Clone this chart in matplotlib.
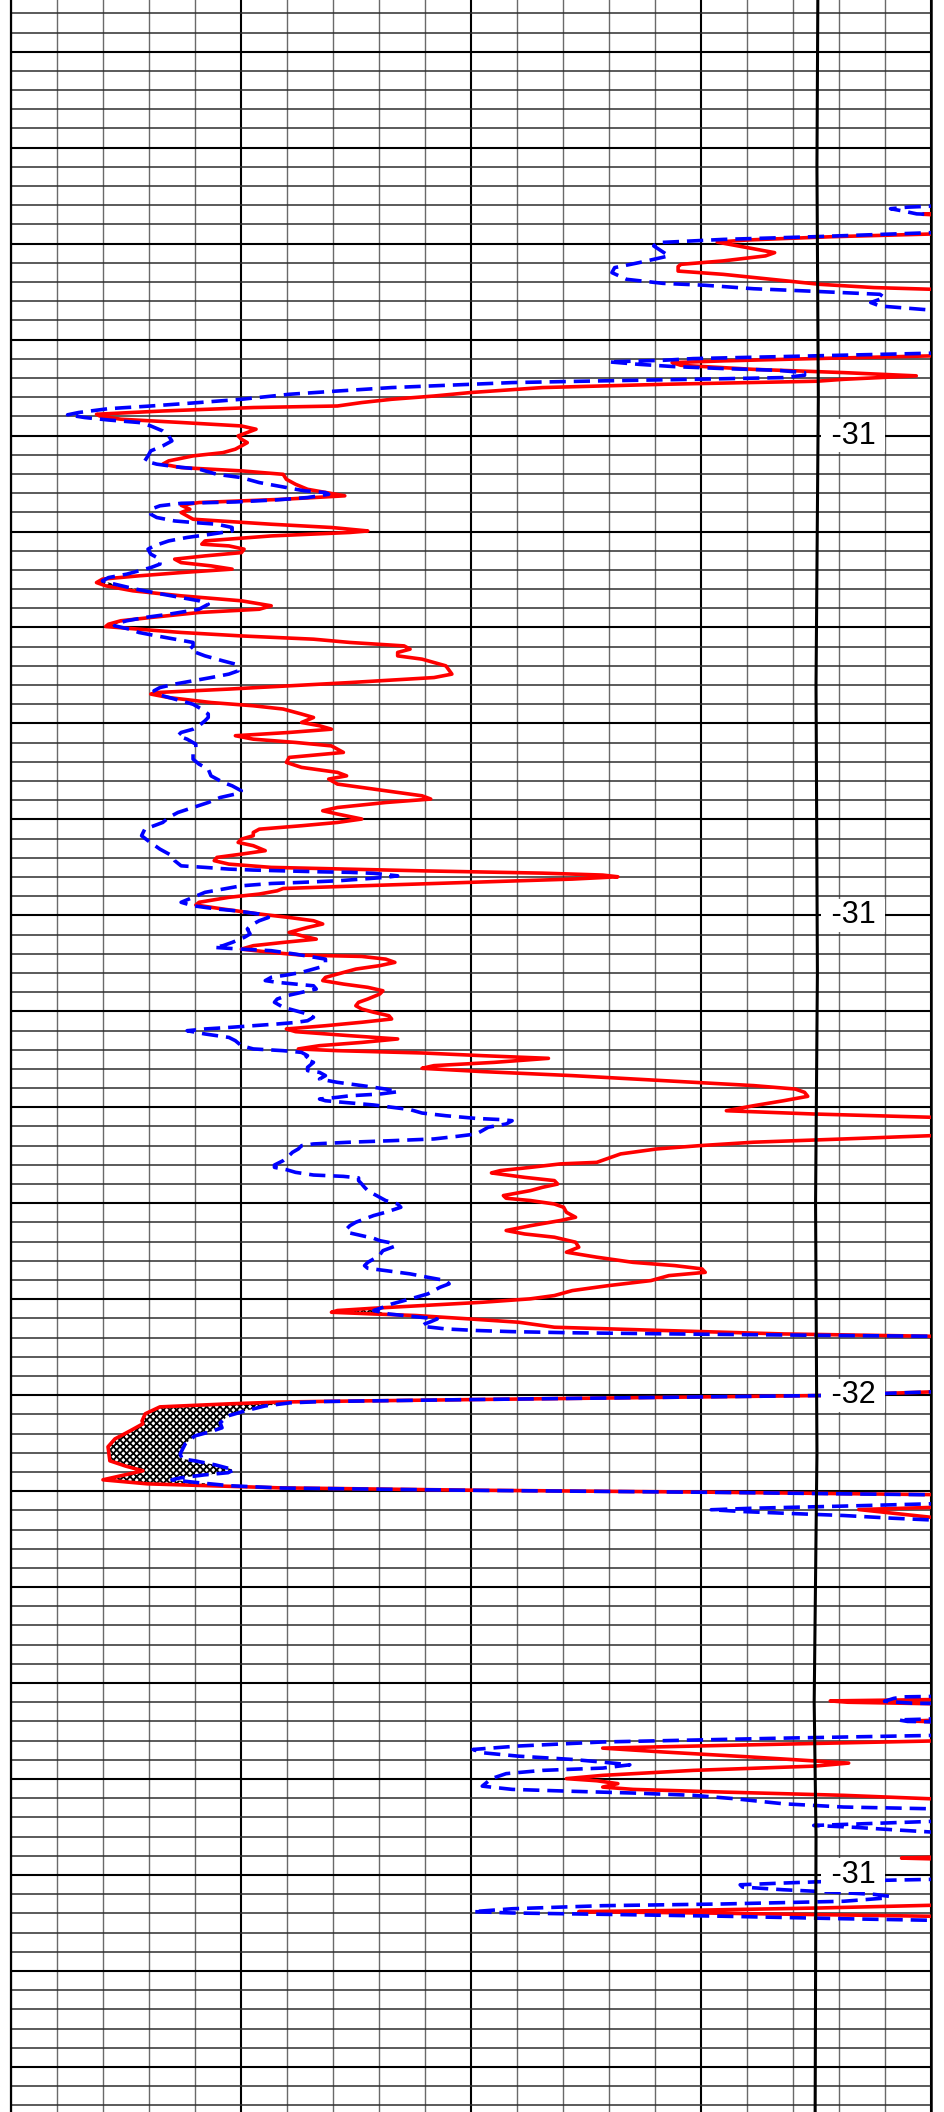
import matplotlib
matplotlib.use("Agg")
import matplotlib.pyplot as plt
from matplotlib import font_manager
import numpy as np

# depth in minor grid steps (major every 5), value in grid divisions 0-20
# values > 20 are off the track to the right
red = [
    (-1.0, 22), (10.30, 21), (10.47, 19.83), (10.60, 21), (11.37, 22),
    (11.50, 20.0), (11.64, 17.85), (11.81, 16.02), (11.92, 15.36), (12.21, 16.02),
    (12.47, 16.61), (12.64, 16.41), (12.90, 15.49), (13.08, 14.57), (13.20, 14.51),
    (13.43, 14.51), (13.60, 15.49), (13.86, 16.54), (14.12, 17.59), (14.29, 18.77),
    (14.38, 20.0), (14.50, 22), (17.70, 22), (17.85, 20.0), (17.99, 17.46),
    (18.11, 15.49), (18.20, 14.38), (18.34, 14.57), (18.55, 16.15), (18.72, 18.11),
    (18.89, 19.69), (19.07, 18.11), (19.17, 17.52), (19.33, 14.18), (19.50, 11.56),
    (19.76, 9.99), (19.94, 9.20), (20.11, 8.28), (20.28, 7.63), (20.46, 7.10),
    (20.54, 5.27), (20.72, 3.30), (20.89, 1.86), (20.98, 1.93), (21.15, 2.39),
    (21.32, 3.70), (21.50, 5.01), (21.67, 5.33), (21.84, 5.14), (22.02, 4.94),
    (22.19, 5.01), (22.37, 5.14), (22.54, 5.01), (22.71, 4.88), (22.89, 4.61),
    (23.06, 3.96), (23.32, 3.43), (23.49, 3.30), (23.67, 3.70), (23.84, 5.01),
    (24.02, 5.92), (24.28, 5.99), (24.54, 6.19), (24.80, 6.45), (25.14, 7.26),
    (25.32, 5.92), (25.49, 4.09), (25.63, 3.70), (25.84, 3.89), (26.01, 3.70),
    (26.36, 3.96), (26.62, 5.66), (26.79, 6.97), (26.97, 7.76), (27.05, 7.37),
    (27.23, 5.66), (27.49, 4.22), (27.66, 4.15), (27.75, 4.74), (27.92, 5.07),
    (28.10, 5.01), (28.27, 4.22), (28.44, 3.56), (28.62, 3.70), (28.79, 4.35),
    (28.96, 4.81), (29.14, 3.70), (29.31, 2.78), (29.48, 1.99), (29.66, 1.86),
    (29.83, 2.06), (30.09, 2.65), (30.35, 3.70), (30.61, 5.01), (30.87, 5.66),
    (31.05, 5.40), (31.22, 4.09), (31.48, 3.04), (31.65, 2.39), (31.83, 2.12),
    (31.95, 2.06), (32.09, 2.78), (32.26, 3.70), (32.44, 5.01), (32.61, 6.58),
    (32.78, 7.37), (32.96, 8.55), (33.13, 8.68), (33.30, 8.41), (33.48, 8.41),
    (33.65, 8.94), (34.00, 9.46), (34.43, 9.59), (34.61, 9.20), (34.87, 7.37),
    (35.04, 6.05), (35.21, 4.74), (35.39, 3.17), (35.47, 3.04), (35.65, 3.43),
    (35.91, 4.35), (36.08, 5.27), (36.25, 5.92), (36.51, 6.32), (36.69, 6.58),
    (36.95, 6.32), (37.12, 6.71), (37.30, 6.97), (37.47, 6.05), (37.64, 4.88),
    (37.82, 5.27), (37.99, 6.19), (38.17, 6.97), (38.34, 7.10), (38.51, 7.23),
    (38.77, 6.05), (39.03, 5.99), (39.29, 6.32), (39.55, 7.10), (39.73, 7.30),
    (39.90, 6.91), (40.16, 7.10), (40.42, 7.89), (40.77, 8.94), (40.94, 9.13),
    (41.12, 8.15), (41.38, 7.10), (41.55, 6.78), (41.72, 7.10), (41.98, 7.63),
    (42.16, 7.10), (42.33, 6.32), (42.51, 5.40), (42.68, 5.27), (42.85, 5.27),
    (43.03, 5.01), (43.20, 4.94), (43.37, 5.27), (43.63, 5.53), (43.81, 5.01),
    (43.98, 4.48), (44.15, 4.42), (44.33, 4.74), (44.50, 5.66), (44.68, 8.94),
    (44.80, 11.56), (44.90, 12.87), (44.99, 13.20), (45.11, 12.21), (45.28, 9.99),
    (45.46, 7.63), (45.60, 5.92), (45.72, 5.79), (45.89, 5.40), (46.06, 4.74),
    (46.32, 4.09), (46.46, 4.02), (46.67, 4.61), (46.93, 5.40), (47.11, 6.05),
    (47.28, 6.58), (47.45, 6.78), (47.63, 6.45), (47.89, 6.05), (48.06, 6.32),
    (48.24, 6.64), (48.41, 5.92), (48.58, 5.27), (48.76, 5.01), (48.93, 5.66),
    (49.07, 6.32), (49.14, 7.63), (49.28, 8.15), (49.45, 8.35), (49.62, 8.02),
    (49.80, 7.50), (50.06, 7.10), (50.23, 6.84), (50.40, 6.78), (50.58, 7.23),
    (50.75, 7.76), (50.93, 8.09), (51.10, 8.02), (51.36, 7.76), (51.53, 7.56),
    (51.71, 7.50), (51.88, 7.63), (52.05, 7.89), (52.23, 8.22), (52.40, 8.28),
    (52.57, 7.63), (52.75, 6.84), (52.92, 5.99), (53.06, 6.19), (53.27, 7.37),
    (53.44, 8.41), (53.62, 7.63), (53.79, 6.71), (53.96, 6.25), (54.05, 7.10),
    (54.17, 8.94), (54.31, 10.25), (54.45, 11.69), (54.66, 10.51), (54.83, 9.20),
    (54.97, 8.94), (55.14, 10.25), (55.35, 12.21), (55.61, 14.18), (55.87, 16.15),
    (56.05, 17.06), (56.22, 17.26), (56.43, 17.33), (56.66, 16.80), (56.92, 16.15),
    (57.18, 15.56), (57.35, 17.46), (57.52, 20.0), (57.65, 22), (58.35, 22),
    (58.48, 20.0), (58.65, 18.11), (58.82, 16.15), (59.00, 14.97), (59.17, 14.05),
    (59.43, 13.26), (59.87, 12.74), (59.95, 11.95), (60.13, 11.30), (60.30, 10.64),
    (60.42, 10.45), (60.65, 11.17), (60.82, 11.82), (61.00, 11.89), (61.17, 11.56),
    (61.34, 11.30), (61.60, 10.71), (61.74, 10.77), (61.86, 11.30), (62.04, 11.82),
    (62.21, 12.02), (62.47, 12.08), (62.73, 12.28), (62.90, 11.95), (63.17, 11.30),
    (63.42, 10.77), (63.60, 11.17), (63.77, 11.82), (64.03, 12.28), (64.29, 12.35),
    (64.55, 12.08), (64.81, 12.74), (65.08, 13.53), (65.25, 14.44), (65.42, 15.03),
    (65.60, 15.10), (65.77, 14.31), (66.03, 13.92), (66.29, 13.00), (66.55, 12.21),
    (66.81, 11.82), (66.98, 11.30), (67.16, 10.25), (67.33, 8.94), (67.47, 7.89),
    (67.59, 7.10), (67.68, 6.97), (67.77, 7.89), (67.85, 8.81), (68.03, 9.99),
    (68.20, 11.04), (68.46, 11.82), (68.63, 14.18), (68.81, 16.80), (68.93, 20.0),
    (69.10, 22), (71.70, 22), (71.83, 20.0), (72.02, 17.59), (72.09, 15.0),
    (72.23, 10.0), (72.33, 6.6), (72.36, 5.85), (72.45, 4.76), (72.61, 3.24),
    (72.97, 2.92), (73.34, 2.85), (73.49, 2.87), (73.86, 2.59), (74.28, 2.26),
    (74.69, 2.11), (75.42, 2.15), (75.70, 2.50), (75.94, 2.87), (76.41, 2.00),
    (76.62, 2.96), (76.83, 5.85), (76.95, 10.0), (77.05, 15.0), (77.18, 20.0),
    (77.30, 22), (77.75, 22), (77.85, 20.0), (77.96, 18.44), (78.18, 19.29),
    (78.36, 20.0), (78.50, 22), (87.80, 22), (87.93, 17.82), (88.00, 18.20),
    (88.12, 21), (88.85, 21), (88.98, 19.60), (89.10, 21), (89.90, 22),
    (90.02, 20.0), (90.25, 15.49), (90.39, 12.87), (90.59, 14.18), (90.86, 16.15),
    (91.17, 18.22), (91.33, 17.46), (91.55, 14.84), (91.81, 12.87), (91.98, 12.08),
    (92.09, 12.74), (92.24, 13.20), (92.42, 12.87), (92.54, 13.53), (92.68, 15.49),
    (92.85, 18.11), (93.03, 20.0), (93.15, 22), (95.95, 22), (96.12, 19.37),
    (96.28, 22), (98.45, 22), (98.58, 20.0), (98.72, 17.59), (98.83, 15.03),
    (98.91, 12.35), (98.98, 15.03), (99.07, 17.59), (99.15, 20.0), (99.30, 22),
    (110.0, 22),
]

blue = [
    (-1.0, 22), (9.95, 22), (10.05, 20.0), (10.10, 19.50), (10.18, 19.13),
    (10.30, 19.40), (10.45, 19.70), (10.50, 20.2), (10.60, 22), (11.30, 22),
    (11.43, 20.0), (11.64, 17.46), (11.78, 15.49), (11.95, 14.05), (12.12, 13.98),
    (12.64, 14.31), (12.99, 13.66), (13.25, 13.13), (13.51, 13.07), (13.86, 13.39),
    (14.07, 14.18), (14.17, 15.10), (14.35, 16.15), (14.47, 17.33), (14.64, 18.90),
    (14.81, 19.00), (15.07, 18.70), (15.25, 18.90), (15.46, 20.0), (15.60, 22),
    (17.60, 22), (17.71, 20.0), (17.85, 17.46), (17.99, 14.84), (18.08, 14.18),
    (18.16, 13.00), (18.29, 13.66), (18.41, 14.44), (18.51, 15.49), (18.60, 16.67),
    (18.72, 17.26), (18.86, 17.26), (18.98, 16.80), (19.07, 14.84), (19.15, 12.87),
    (19.24, 10.90), (19.33, 9.99), (19.50, 8.28), (19.68, 7.10), (19.85, 6.05),
    (20.11, 5.01), (20.28, 4.09), (20.46, 3.04), (20.60, 2.12), (20.80, 1.47),
    (20.92, 1.23), (21.06, 1.60), (21.19, 2.12), (21.32, 2.78), (21.50, 3.04),
    (21.76, 3.30), (22.02, 3.43), (22.28, 3.50), (22.54, 3.30), (22.80, 3.04),
    (23.06, 2.98), (23.32, 2.91), (23.49, 3.17), (23.62, 3.56), (23.75, 4.09),
    (24.02, 4.48), (24.19, 5.01), (24.45, 5.40), (24.71, 5.99), (24.88, 6.38),
    (24.97, 6.84), (25.06, 6.91), (25.23, 6.45), (25.35, 5.79), (25.46, 4.88),
    (25.53, 3.70), (25.66, 3.24), (25.84, 3.04), (26.10, 3.04), (26.27, 3.17),
    (26.45, 3.56), (26.53, 3.96), (26.62, 4.48), (26.79, 4.81), (26.97, 4.81),
    (27.14, 4.35), (27.31, 3.83), (27.49, 3.43), (27.75, 3.11), (27.92, 2.98),
    (28.18, 3.04), (28.44, 3.24), (28.70, 3.24), (28.88, 3.04), (29.05, 2.78),
    (29.22, 2.52), (29.40, 2.12), (29.57, 1.99), (29.74, 2.25), (30.00, 2.71),
    (30.27, 3.30), (30.44, 3.70), (30.61, 4.09), (30.79, 4.29), (31.05, 4.09),
    (31.31, 3.43), (31.48, 2.91), (31.65, 2.52), (31.78, 2.32), (31.91, 2.25),
    (32.09, 2.58), (32.26, 2.78), (32.44, 3.17), (32.61, 3.56), (32.78, 3.96),
    (32.96, 3.96), (33.13, 3.89), (33.30, 4.02), (33.48, 4.22), (33.74, 4.61),
    (33.91, 4.88), (34.08, 4.94), (34.26, 4.94), (34.43, 4.74), (34.61, 4.35),
    (34.78, 3.96), (34.95, 3.56), (35.13, 3.24), (35.30, 3.11), (35.47, 3.17),
    (35.73, 3.56), (36.00, 3.96), (36.26, 4.15), (36.51, 4.29), (36.69, 4.29),
    (36.86, 4.22), (37.12, 4.09), (37.30, 3.96), (37.47, 3.70), (37.64, 3.63),
    (37.82, 3.83), (38.08, 4.02), (38.34, 4.02), (38.60, 3.96), (38.86, 3.96),
    (39.12, 4.09), (39.38, 4.29), (39.73, 4.35), (40.07, 4.61), (40.25, 4.81),
    (40.51, 5.01), (40.68, 4.88), (40.86, 4.55), (41.12, 4.29), (41.38, 3.96),
    (41.64, 3.63), (41.90, 3.43), (42.16, 3.30), (42.51, 2.91), (42.85, 2.84),
    (43.11, 2.98), (43.55, 3.24), (43.72, 3.37), (43.89, 3.50), (44.15, 3.56),
    (44.42, 3.70), (44.50, 4.22), (44.59, 4.74), (44.64, 5.27), (44.69, 6.05),
    (44.73, 6.71), (44.76, 7.37), (44.81, 7.89), (44.94, 8.41), (45.02, 8.15),
    (45.11, 7.63), (45.20, 7.10), (45.28, 6.32), (45.34, 5.66), (45.46, 5.01),
    (45.63, 4.61), (45.80, 4.22), (46.06, 3.96), (46.32, 3.70), (46.50, 3.96),
    (46.67, 4.48), (46.76, 4.88), (46.93, 5.40), (47.11, 5.60), (47.28, 5.40),
    (47.45, 5.27), (47.71, 5.14), (47.97, 5.20), (48.15, 5.07), (48.41, 4.81),
    (48.58, 4.61), (48.67, 4.42), (48.76, 5.01), (48.84, 5.66), (49.02, 6.19),
    (49.28, 6.84), (49.45, 6.84), (49.71, 6.71), (49.97, 6.32), (50.11, 5.99),
    (50.23, 5.66), (50.40, 5.53), (50.49, 5.79), (50.58, 6.19), (50.67, 6.58),
    (50.84, 6.64), (51.01, 6.32), (51.19, 5.99), (51.36, 5.79), (51.53, 5.73),
    (51.79, 5.92), (51.97, 6.19), (52.14, 6.45), (52.31, 6.58), (52.49, 6.45),
    (52.58, 6.19), (52.66, 5.79), (52.75, 5.27), (52.84, 4.74), (52.92, 4.22),
    (53.01, 3.83), (53.18, 4.22), (53.36, 4.74), (53.53, 4.88), (53.79, 5.01),
    (53.96, 5.27), (54.05, 5.92), (54.14, 6.32), (54.31, 6.45), (54.48, 6.38),
    (54.66, 6.58), (54.92, 6.45), (55.09, 6.45), (55.18, 6.71), (55.35, 6.84),
    (55.53, 6.71), (55.70, 7.10), (55.87, 7.63), (56.05, 8.15), (56.19, 8.41),
    (56.31, 8.02), (56.40, 7.37), (56.48, 7.10), (56.57, 6.71), (56.66, 6.84),
    (56.74, 7.23), (56.88, 7.89), (57.00, 8.28), (57.12, 8.68), (57.30, 8.94),
    (57.44, 9.46), (57.58, 10.12), (57.64, 10.64), (57.70, 10.90), (57.87, 10.77),
    (58.04, 10.38), (58.22, 10.25), (58.39, 10.12), (58.51, 9.72), (58.65, 9.20),
    (58.74, 8.28), (58.82, 7.37), (58.91, 6.58), (59.00, 6.32), (59.17, 6.25),
    (59.35, 6.12), (59.52, 6.05), (59.78, 5.92), (60.01, 5.73), (60.13, 5.73),
    (60.25, 5.99), (60.39, 6.19), (60.53, 6.58), (60.60, 7.23), (60.68, 7.56),
    (60.82, 7.56), (61.00, 7.63), (61.17, 7.69), (61.34, 7.76), (61.52, 7.89),
    (61.69, 8.02), (61.86, 8.15), (62.04, 8.41), (62.21, 8.48), (62.47, 8.15),
    (62.64, 7.89), (62.82, 7.69), (62.99, 7.50), (63.17, 7.37), (63.34, 7.30),
    (63.51, 7.30), (63.69, 7.63), (63.83, 7.89), (63.95, 8.02), (64.07, 8.28),
    (64.24, 8.35), (64.47, 8.09), (64.69, 8.02), (64.90, 7.89), (65.08, 7.76),
    (65.25, 7.69), (65.39, 7.76), (65.51, 8.15), (65.68, 8.68), (65.86, 9.07),
    (66.03, 9.46), (66.20, 9.53), (66.38, 9.33), (66.55, 9.20), (66.72, 9.07),
    (66.90, 8.81), (67.07, 8.55), (67.25, 8.28), (67.42, 8.09), (67.59, 7.89),
    (67.77, 8.22), (67.85, 8.55), (67.94, 8.94), (68.03, 9.27), (68.17, 9.13),
    (68.29, 9.00), (68.41, 8.94), (68.55, 9.46), (68.63, 10.12), (68.69, 10.90),
    (68.75, 12.21), (68.82, 14.84), (68.88, 17.46), (68.93, 20.0), (69.10, 22),
    (71.70, 22), (71.83, 20.0), (72.02, 17.59), (72.09, 15.0), (72.23, 10.0),
    (72.33, 6.8), (72.40, 6.07), (72.56, 5.53), (72.82, 5.09), (73.08, 4.72),
    (73.44, 4.55), (73.70, 4.59), (73.91, 4.33), (74.12, 4.00), (74.54, 3.79),
    (75.06, 3.68), (75.32, 3.72), (75.42, 4.00), (75.63, 4.44), (75.89, 4.85),
    (76.04, 4.72), (76.15, 4.22), (76.31, 3.68), (76.41, 3.50), (76.57, 4.11),
    (76.72, 4.77), (76.84, 5.90), (76.96, 10.10), (77.06, 15.10), (77.19, 20.0),
    (77.30, 22), (77.55, 22), (77.66, 20.0), (77.78, 18.11), (77.89, 16.15),
    (77.97, 15.23), (78.06, 15.88), (78.15, 16.80), (78.27, 18.11), (78.41, 19.16),
    (78.50, 20.0), (78.60, 22), (87.62, 22), (87.72, 19.40), (87.80, 19.20),
    (87.95, 19.00), (88.05, 19.60), (88.12, 22), (88.80, 21), (88.92, 19.30),
    (89.00, 19.50), (89.05, 21), (89.60, 22), (89.73, 20.0), (89.87, 16.80),
    (90.07, 12.87), (90.28, 11.04), (90.46, 10.05), (90.63, 10.25), (90.81, 11.04),
    (90.98, 12.21), (91.12, 12.87), (91.26, 13.46), (91.43, 12.87), (91.55, 11.56),
    (91.72, 10.77), (91.98, 10.45), (92.37, 10.25), (92.54, 10.90), (92.64, 12.21),
    (92.73, 13.53), (92.85, 14.84), (93.03, 15.75), (93.29, 16.80), (93.46, 18.11),
    (93.55, 20.0), (93.70, 22), (94.10, 22), (94.21, 20.0), (94.33, 18.51),
    (94.42, 17.46), (94.52, 18.37), (94.64, 19.16), (94.76, 20.0), (94.90, 22),
    (97.10, 22), (97.23, 20.0), (97.33, 17.85), (97.42, 16.80), (97.51, 15.86),
    (97.63, 15.91), (97.77, 16.80), (97.89, 17.85), (98.01, 18.77), (98.11, 19.10),
    (98.20, 19.03), (98.37, 18.11), (98.51, 15.49), (98.60, 12.87), (98.76, 10.90),
    (98.91, 10.05), (98.98, 10.90), (99.05, 12.87), (99.15, 15.49), (99.28, 18.11),
    (99.36, 20.0), (99.50, 22), (110.0, 22),
]

# thick base line
base_depth = [-1, 8, 20, 35, 50, 62, 75, 88, 95, 110]
base_value = [17.55, 17.53, 17.56, 17.51, 17.54, 17.50, 17.53, 17.47, 17.51, 17.49]

# depth labels
label_depth = [22, 47, 72, 97]
label_text = ["-31", "-31", "-32", "-31"]

red_d = np.array([p[0] for p in red])
red_v = np.array([p[1] for p in red])
blue_d = np.array([p[0] for p in blue])
blue_v = np.array([p[1] for p in blue])

plt.rcParams["hatch.linewidth"] = 1.3

names = {f.name for f in font_manager.fontManager.ttflist}
if "Liberation Sans Narrow" in names:
    lab_font, lab_size = "Liberation Sans Narrow", 23
else:
    lab_font, lab_size = "Liberation Sans", 22

fig = plt.figure(figsize=(9.44, 21.12), dpi=100)
ax = fig.add_axes([11 / 944, 0, 919.5 / 944, 1])

ax.set_xlim(0, 20)
ax.set_ylim(109.35, -0.694)

ax.set_xticks(np.arange(0, 21, 5))
ax.set_xticks(np.arange(0, 21, 1), minor=True)
ax.set_yticks(np.arange(2, 110, 5))
ax.set_yticks(np.arange(0, 110, 1), minor=True)
ax.grid(which="minor", axis="x", color="#6a6a6a", lw=1.0)
ax.grid(which="minor", axis="y", color="#2e2e2e", lw=1.1)
ax.grid(which="major", color="black", lw=1.5)
ax.set_axisbelow(True)
ax.tick_params(which="both", length=0, labelleft=False, labelbottom=False)
for s in ["top", "bottom"]:
    ax.spines[s].set_visible(False)
ax.spines["left"].set_linewidth(1.6)
ax.spines["right"].set_linewidth(1.8)

# shading where red lies left of blue
dd = np.linspace(-1, 110, 60000)
rr = np.interp(dd, red_d, red_v)
bb = np.interp(dd, blue_d, blue_v)
ax.fill_betweenx(dd, rr, bb, where=rr < bb, interpolate=True,
                 facecolor="white", edgecolor="black", hatch="xxxxx", lw=0, zorder=2)

ax.plot(red_v, red_d, color="red", lw=2.6, zorder=3)
ax.plot(blue_v, blue_d, color="blue", lw=2.6, dashes=(4.5, 2.2), zorder=4)
ax.plot(base_value, base_depth, color="black", lw=2.2, zorder=5)

for d, t in zip(label_depth, label_text):
    ax.text(18.32, d, " " + t + " ", ha="center", va="center", fontsize=lab_size,
            family=[lab_font, "DejaVu Sans"], zorder=6,
            bbox=dict(facecolor="white", edgecolor="none", pad=1.0))

fig.savefig("out.png", dpi=100)
